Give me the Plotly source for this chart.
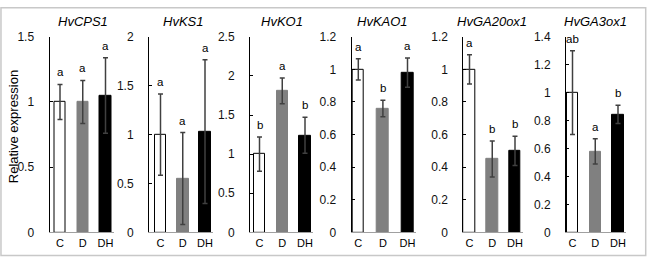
import plotly.graph_objects as go

W, H = 647, 263

categories = ["C", "D", "DH"]
genes = ["HvCPS1", "HvKS1", "HvKO1", "HvKAO1", "HvGA20ox1", "HvGA3ox1"]

cps1 = [1.00, 1.00, 1.05]
cps1_err = [0.135, 0.165, 0.29]
ks1 = [1.00, 0.55, 1.03]
ks1_err = [0.415, 0.47, 0.735]
ko1 = [1.00, 1.81, 1.24]
ko1_err = [0.22, 0.165, 0.23]
kao1 = [1.00, 0.76, 0.98]
kao1_err = [0.065, 0.05, 0.09]
ga20ox1 = [1.00, 0.45, 0.50]
ga20ox1_err = [0.09, 0.11, 0.09]
ga3ox1 = [1.00, 0.58, 0.845]
ga3ox1_err = [0.30, 0.09, 0.065]

letters_cps1 = ["a", "a", "a"]
letters_ks1 = ["a", "a", "a"]
letters_ko1 = ["b", "a", "b"]
letters_kao1 = ["a", "b", "a"]
letters_ga20ox1 = ["a", "b", "b"]
letters_ga3ox1 = ["ab", "a", "b"]

ticks_cps1 = [0, 0.5, 1, 1.5]
ticks_ks1 = [0, 0.5, 1, 1.5, 2]
ticks_ko1 = [0, 0.5, 1, 1.5, 2, 2.5]
ticks_kao1 = [0, 0.2, 0.4, 0.6, 0.8, 1, 1.2]
ticks_ga20ox1 = [0, 0.2, 0.4, 0.6, 0.8, 1, 1.2]
ticks_ga3ox1 = [0, 0.2, 0.4, 0.6, 0.8, 1, 1.2, 1.4]

values = [cps1, ks1, ko1, kao1, ga20ox1, ga3ox1]
errors = [cps1_err, ks1_err, ko1_err, kao1_err, ga20ox1_err, ga3ox1_err]
letters = [letters_cps1, letters_ks1, letters_ko1, letters_kao1, letters_ga20ox1, letters_ga3ox1]
ticks = [ticks_cps1, ticks_ks1, ticks_ko1, ticks_kao1, ticks_ga20ox1, ticks_ga3ox1]

# layout geometry (pixels): axis x, C centre, DH centre
geom = [
    (49.5, 60.0, 105.5),
    (149.0, 160.5, 205.0),
    (250.0, 259.5, 305.0),
    (351.7, 358.3, 407.5),
    (463.3, 469.5, 515.0),
    (566.0, 572.5, 618.0),
]
y_bot_px, y_top_px = 238.0, 31.5
ydom = [(H - y_bot_px) / H, (H - y_top_px) / H]

bar_colors = ["#ffffff", "#808080", "#000000"]
line_colors = ["#000000", "#808080", "#000000"]

fig = go.Figure()
annotations = []
layout = {}
for i in range(6):
    L, cc, dc = geom[i]
    s = (dc - cc) / 2.0
    R = dc + 8
    r0 = -(cc - L) / s
    r1 = 2 + (R - dc) / s
    xa = "x" if i == 0 else f"x{i+1}"
    ya = "y" if i == 0 else f"y{i+1}"
    fig.add_trace(go.Bar(
        x=[0, 1, 2], y=values[i], xaxis=xa, yaxis=ya,
        width=11.5 / s,
        marker=dict(color=bar_colors, line=dict(color=line_colors, width=1)),
        error_y=dict(type="data", array=errors[i], color="#404040", thickness=1.5, width=2.5),
        showlegend=False, hoverinfo="skip",
    ))
    ymax = ticks[i][-1]
    layout["xaxis" if i == 0 else f"xaxis{i+1}"] = dict(
        domain=[L / W, R / W], range=[r0, r1], anchor=ya,
        tickvals=[0, 1, 2], ticktext=categories, showgrid=False, zeroline=False,
        showline=True, linecolor="#a0a0a0", linewidth=1, ticks="",
        tickfont=dict(family="Arial, Liberation Sans", size=11, color="#000000"),
        fixedrange=True,
    )
    layout["yaxis" if i == 0 else f"yaxis{i+1}"] = dict(
        domain=ydom, range=[0, ymax], anchor=xa,
        tickvals=ticks[i], ticktext=[f"{t:g}" for t in ticks[i]],
        showgrid=False, zeroline=False, showline=True, linecolor="#000000", linewidth=1,
        ticks="inside", ticklen=3, tickcolor="#000000", tickwidth=1,
        ticklabelstandoff=12,
        tickfont=dict(family="Liberation Sans Narrow, Arial Narrow, Liberation Sans", size=12, color="#111111"),
        fixedrange=True,
    )
    for j in range(3):
        annotations.append(dict(
            x=j, y=values[i][j] + errors[i][j], xref=xa, yref=ya,
            text=f"<span style='color:#000000'>{letters[i][j]}</span>",
            showarrow=False, yanchor="bottom", yshift=4,
            font=dict(family="Arial, Liberation Sans", size=11.5, color="#000000"),
        ))
    annotations.append(dict(
        x=(cc + dc) / 2 / W, y=(H - 15) / H, xref="paper", yref="paper",
        text=f"<i>{genes[i]}</i>", showarrow=False, xanchor="center", yanchor="middle",
        font=dict(family="Arial, Liberation Sans", size=13, color="#000000"),
    ))

annotations.append(dict(
    x=13 / W, y=(H - 127) / H, xref="paper", yref="paper", text="Relative expression",
    textangle=-90, showarrow=False, xanchor="center", yanchor="middle",
    font=dict(family="Arial, Liberation Sans", size=13, color="#000000"),
))

fig.update_layout(
    width=W, height=H, margin=dict(l=0, r=0, t=0, b=0),
    font=dict(color="#000000", family="Arial, Liberation Sans"),
    paper_bgcolor="#ffffff", plot_bgcolor="#ffffff",
    annotations=annotations, bargap=0,
    shapes=[dict(type="rect", xref="paper", yref="paper", x0=0.0015, y0=0.002, x1=0.998, y1=0.997,
                 line=dict(color="#c8c8c8", width=1.5))],
    **layout,
)

fig.write_html("out.html", config={"displayModeBar": False},
               post_script="document.body.style.margin='0';document.body.style.padding='0';")
